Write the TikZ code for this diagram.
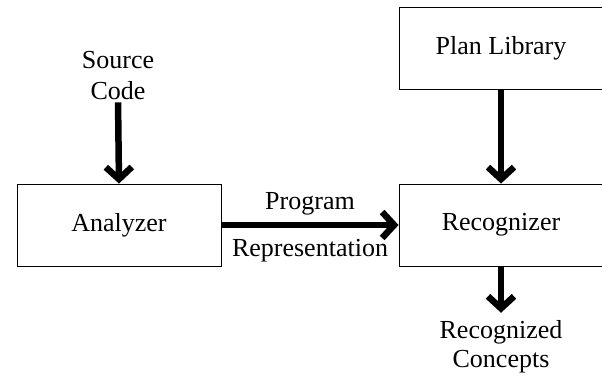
\documentclass[tikz,border=0pt]{standalone}
\usepackage{fontspec}
\setmainfont{Liberation Serif}
\usetikzlibrary{arrows.meta}
\begin{document}
\begin{tikzpicture}[x=1pt,y=-1pt,
  txt/.style={font=\fontsize{26}{31}\selectfont, inner sep=0pt},
  box/.style={txt, draw, line width=0.9pt, minimum width=204pt, minimum height=82pt},
  flow/.style={line width=6.5pt, -{Straight Barb[length=12pt,width=26pt,line width=6.5pt]}}]
\useasboundingbox (0,0) rectangle (602,375);
\clip (0,0) rectangle (602,375);

% boxes
\node[box] (analyzer) at (119,225) {Analyzer};
\node[box] (plan)     at (501,48)  {Plan Library};
\node[box] (recog)    at (501,225) {Recognizer};

% free labels
\node[txt, anchor=base] (src)  at (118,68)  {Source};
\node[txt, anchor=base] (code) at (118,99)  {Code};
\node[txt, anchor=base] (rcg)  at (501,338) {Recognized};
\node[txt, anchor=base] (cpt)  at (501,367) {Concepts};

% flows
\draw[flow, shorten <=3pt] (code.south) -- (analyzer.north);
\draw[flow] (plan.south) -- (recog.north);
\draw[flow] (analyzer.east) -- (recog.west)
  node[txt, midway, above=7pt] (prog) {Program}
  node[txt, midway, below=11pt] (rep) {Representation};
\draw[flow, shorten >=7pt] (recog.south) -- (rcg.north);
\end{tikzpicture}
\end{document}
